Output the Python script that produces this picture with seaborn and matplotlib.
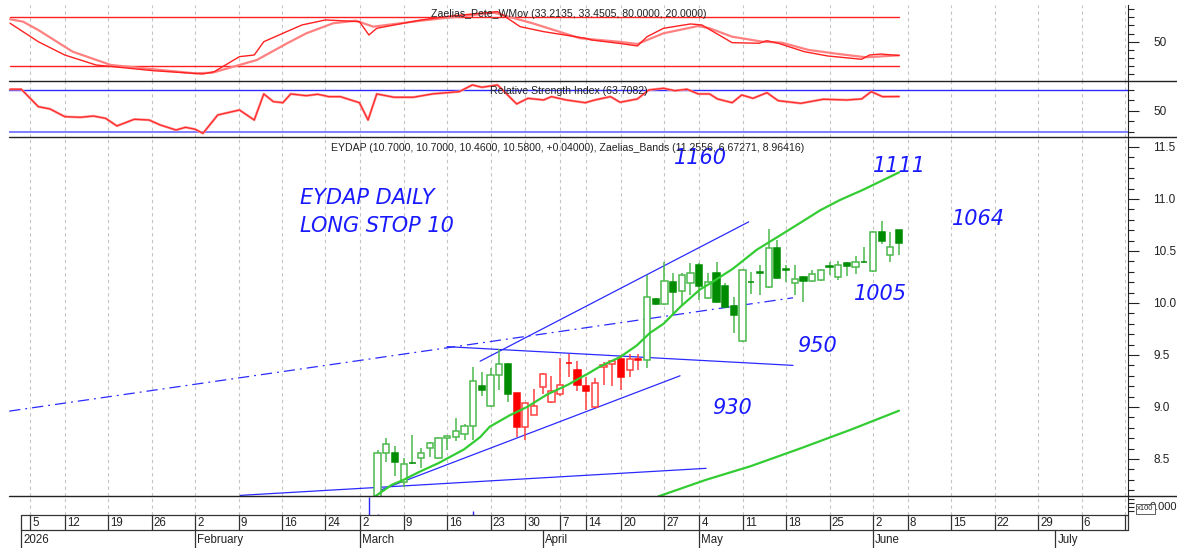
import matplotlib
matplotlib.use("Agg")
import matplotlib.pyplot as plt
import seaborn as sns
from matplotlib.lines import Line2D
from matplotlib.patches import Rectangle
from matplotlib.ticker import MultipleLocator, FixedLocator

# ---------------- data (x = trading-day index, 0 = 5 Jan 2026) ----------------
candle_day = list(range(40, 101))
opens = [8.02, 8.56, 8.56, 8.28, 8.46, 8.51, 8.61, 8.51, 8.70, 8.71, 8.74, 8.82, 9.20, 9.01, 9.31, 9.41,
         9.13, 8.81, 8.92, 9.19, 9.05, 9.12, 9.42, 9.36, 9.20, 9.00, 9.38, 9.41, 9.46, 9.36, 9.46,
         9.45, 10.04, 9.99, 10.20, 10.12, 10.19, 10.37, 10.05, 10.29, 10.16, 9.97, 9.63, 10.20, 10.29,
         10.15, 10.53, 10.32, 10.19, 10.25, 10.21, 10.22, 10.35, 10.25, 10.38, 10.35, 10.39, 10.31,
         10.68, 10.46, 10.70]
highs = [8.59, 8.70, 8.62, 8.51, 8.73, 8.61, 8.66, 8.71, 8.73, 8.89, 8.84, 9.38, 9.34, 9.37, 9.56, 9.42,
         9.13, 9.04, 9.17, 9.33, 9.30, 9.47, 9.51, 9.44, 9.29, 9.28, 9.43, 9.45, 9.50, 9.51, 9.51,
         10.27, 10.05, 10.39, 10.29, 10.29, 10.38, 10.38, 10.29, 10.39, 10.19, 10.06, 10.33, 10.30, 10.37,
         10.71, 10.61, 10.37, 10.37, 10.26, 10.32, 10.33, 10.39, 10.40, 10.39, 10.45, 10.54, 10.69,
         10.79, 10.68, 10.70]
lows = [7.98, 8.47, 8.34, 8.23, 8.45, 8.41, 8.52, 8.50, 8.59, 8.67, 8.68, 8.68, 9.11, 9.00, 9.16, 9.05,
        8.71, 8.68, 8.92, 9.12, 9.04, 9.11, 9.29, 9.15, 8.97, 8.99, 9.21, 9.20, 9.16, 9.29, 9.36,
        9.37, 9.98, 9.98, 9.88, 9.98, 10.08, 10.03, 10.04, 10.00, 9.95, 9.71, 9.62, 10.09, 10.08,
        10.14, 10.23, 10.20, 10.08, 10.01, 10.20, 10.21, 10.27, 10.22, 10.26, 10.28, 10.38, 10.30,
        10.57, 10.39, 10.46]
closes = [8.56, 8.64, 8.47, 8.45, 8.46, 8.56, 8.65, 8.70, 8.72, 8.77, 8.82, 9.25, 9.16, 9.31, 9.41, 9.12,
          8.81, 9.04, 9.01, 9.32, 9.15, 9.21, 9.42, 9.21, 9.15, 9.23, 9.40, 9.44, 9.29, 9.46, 9.45,
          10.06, 9.99, 10.21, 10.11, 10.27, 10.29, 10.16, 10.20, 10.01, 9.96, 9.88, 10.32, 10.20, 10.29,
          10.53, 10.24, 10.32, 10.23, 10.21, 10.28, 10.32, 10.35, 10.37, 10.36, 10.39, 10.39, 10.68,
          10.60, 10.54, 10.58]
trend = ['g', 'g', 'g', 'g', 'g', 'g', 'g', 'g', 'g', 'g', 'g', 'g', 'g', 'g', 'g', 'g',
         'r', 'r', 'r', 'r', 'r', 'r', 'r', 'r', 'r', 'r', 'r', 'r', 'r', 'r', 'r',
         'g', 'g', 'g', 'g', 'g', 'g', 'g', 'g', 'g', 'g', 'g', 'g', 'g', 'g',
         'g', 'g', 'g', 'g', 'g', 'g', 'g', 'g', 'g', 'g', 'g', 'g', 'g', 'g', 'g', 'g']

band_up_day = [39, 39.7, 41.6, 43.0, 44.9, 47.0, 49.9, 51.8, 52.9, 55.2, 57.2, 59.5, 61.8, 64.4, 65.6,
               67.9, 69.8, 71.3, 72.9, 74.8, 77.1, 78.3, 80.9, 83.6, 86.7, 89.2, 90.9, 93.2, 95.9, 100]
band_up_val = [8.05, 8.14, 8.25, 8.30, 8.38, 8.46, 8.59, 8.71, 8.81, 8.92, 9.00, 9.12, 9.21, 9.33, 9.39,
               9.48, 9.59, 9.71, 9.80, 9.96, 10.13, 10.19, 10.33, 10.51, 10.67, 10.80, 10.89, 10.99, 11.09, 11.2556]
band_mid_day = [71, 72.3, 77.8, 82.9, 88.6, 94.4, 100]
band_mid_val = [8.06, 8.14, 8.30, 8.43, 8.60, 8.78, 8.96416]

pete_fast_day = [-2.3, 0.95, 4.0, 7.6, 14.2, 19.9, 21.2, 24.1, 25.8, 26.9, 29.1, 31.3, 34.0, 37.9, 39.0,
                 39.9, 45.0, 48.5, 53.8, 56.4, 59.1, 63.9, 64.6, 67.7, 69.9, 71.0, 72.9, 76.0, 77.3,
                 80.8, 83.9, 84.8, 86.1, 89.1, 91.8, 95.7, 96.6, 97.9, 100]
pete_fast_val = [72.7, 50.1, 33.8, 21.6, 14.6, 10.6, 13.4, 31.8, 33.8, 50.1, 60.4, 70.6, 76.7, 74.6, 58.3,
                 66.5, 76.7, 81.6, 86.9, 68.5, 62.4, 54.3, 52.2, 48.2, 44.9, 56.2, 66.5, 71.8, 70.6,
                 48.9, 48.2, 51.3, 48.2, 37.9, 32.6, 28.6, 33.8, 35.0, 33.2135]
pete_slow_day = [-2.3, -0.8, 0.95, 4.9, 9.3, 15.0, 19.0, 21.0, 26.1, 29.6, 31.8, 34.9, 37.5, 39.5, 45.0,
                 53.4, 57.8, 63.3, 67.7, 69.9, 72.9, 76.9, 78.2, 80.8, 84.3, 86.5, 89.6, 93.1, 96.2, 100]
pete_slow_val = [77.6, 74.6, 64.4, 37.9, 21.6, 15.5, 11.4, 12.2, 27.7, 48.2, 60.4, 72.7, 75.8, 68.5, 75.8,
                 85.6, 72.7, 54.3, 50.1, 47.3, 60.4, 69.3, 66.5, 56.2, 50.1, 48.9, 40.0, 35.0, 31.0, 33.4505]
pete_levels = [80, 20]

rsi_day = [-2.3, -1.0, 0.95, 2.3, 4.0, 5.8, 7.3, 8.7, 10.0, 12.0, 13.7, 15.0, 16.8, 17.9, 19.0, 19.9,
           21.6, 24.1, 25.8, 26.9, 28.0, 29.1, 30.0, 31.8, 33.1, 34.4, 35.7, 37.9, 38.9, 39.9, 41.9,
           44.1, 46.3, 49.4, 50.9, 52.0, 53.8, 56.0, 57.3, 59.1, 60.0, 61.7, 63.9, 65.0, 66.8, 67.9,
           69.9, 71.2, 72.9, 74.2, 75.6, 76.9, 78.2, 79.1, 80.8, 81.9, 83.2, 84.8, 86.1, 88.7, 91.3,
           94.0, 95.7, 96.8, 98.1, 100]
rsi_val = [70.7, 70.7, 54.0, 51.8, 44.4, 43.8, 45.0, 42.8, 35.5, 41.9, 41.2, 36.4, 31.6, 34.2, 32.3, 28.4,
           46.0, 50.8, 41.2, 66.2, 58.8, 57.8, 66.2, 64.5, 65.9, 63.6, 63.6, 57.8, 41.2, 66.2, 63.0,
           63.0, 66.2, 68.4, 74.8, 72.6, 74.8, 56.6, 62.0, 60.4, 63.6, 60.4, 57.8, 60.4, 63.6, 58.2,
           61.4, 70.0, 71.6, 69.3, 70.7, 66.2, 66.2, 61.4, 57.8, 65.2, 62.0, 67.4, 59.7, 57.2, 61.1,
           60.4, 61.4, 68.4, 63.6, 63.7082]
rsi_levels = [70, 30]

vol_day = [39, 40, 51]
vol_val = [18, 0.6, 4]

# trendlines drawn on the chart (start day, start price, end day, end price)
tl_x0 = [24.2, 51.8, 40.3, 48.0, -2.4]
tl_y0 = [8.15, 9.44, 8.20, 9.58, 8.96]
tl_x1 = [77.8, 82.7, 74.8, 87.8, 87.8]
tl_y1 = [8.41, 10.78, 9.30, 9.40, 10.05]
tl_dashed = [False, False, False, False, True]

notes = ["EYDAP DAILY", "LONG STOP 10", "1160", "1111", "1064", "1005", "950", "930"]

week_day = [0, 4, 9, 14, 19, 24, 29, 34, 38, 43, 48, 53, 57, 61, 64, 68, 73, 77, 82, 87, 92, 97,
            101, 106, 111, 116, 121, 126]
week_lbl = ["5", "12", "19", "26", "2", "9", "16", "24", "2", "9", "16", "23", "30", "7", "14", "20",
            "27", "4", "11", "18", "25", "2", "8", "15", "22", "29", "6", ""]
month_day = [-1, 19, 38, 59, 77, 97, 118]
month_lbl = ["2026", "February", "March", "April", "May", "June", "July"]

# ---------------- style / layout ----------------
sns.set_style("white")
plt.rcParams['font.family'] = ['Liberation Sans', 'DejaVu Sans']

W, H = 1177, 550
fig = plt.figure(figsize=(W / 100, H / 100), dpi=100)
fig.patch.set_facecolor("white")
XL, XR = 9, 1128
XMIN, XMAX = -2.42, 126.35


def rect(yt, yb):
    return [XL / W, 1 - yb / H, (XR - XL) / W, (yb - yt) / H]


ax_top = fig.add_axes(rect(5, 81))
ax_rsi = fig.add_axes(rect(81, 137))
ax_main = fig.add_axes(rect(137, 496))
ax_vol = fig.add_axes(rect(496, 515))
ax_date = fig.add_axes(rect(515, 548))

for ax in (ax_top, ax_rsi, ax_main, ax_vol, ax_date):
    ax.set_xlim(XMIN, XMAX)
    ax.set_facecolor("none")
    for s in ("top", "left", "bottom"):
        ax.spines[s].set_visible(False)
    ax.spines["right"].set_color("#222222")
    ax.spines["right"].set_linewidth(0.8)
    ax.set_xticks([])
    ax.yaxis.tick_right()
    ax.tick_params(axis="y", which="major", direction="out", length=8, width=0.8,
                   colors="#222222", labelsize=8.5, pad=10)
    ax.tick_params(axis="y", which="minor", direction="out", length=4, width=0.8, colors="#222222")
    ax.set_xlabel("")
    ax.set_ylabel("")
ax_date.spines["right"].set_visible(False)
ax_date.set_yticks([])
ax_date.set_ylim(0, 1)

# vertical dashed grid at week starts
for ax in (ax_top, ax_rsi, ax_main, ax_vol):
    for d in week_day:
        ax.axvline(d, color="#c4c4c4", lw=0.8, ls=(0, (3, 3)), zorder=0)

# ---- top panel: Zaelias_Pete_WMov ----
ax_top.set_ylim(2, 95)
for lv in pete_levels:
    ax_top.plot([pete_fast_day[0], 100], [lv, lv], color="#ff2020", lw=1.0, zorder=2)
sns.lineplot(x=pete_slow_day, y=pete_slow_val, ax=ax_top, color="#ff8080", lw=1.6,
             estimator=None, sort=False, zorder=3)
sns.lineplot(x=pete_fast_day, y=pete_fast_val, ax=ax_top, color="#ff2020", lw=1.0,
             estimator=None, sort=False, zorder=4)
ax_top.yaxis.set_major_locator(FixedLocator([50]))
ax_top.yaxis.set_minor_locator(FixedLocator([10, 20, 30, 40, 60, 70, 80, 90]))
ax_top.set_xlim(XMIN, XMAX)
ax_top.set_xlabel(""); ax_top.set_ylabel("")

# ---- RSI panel ----
ax_rsi.set_ylim(24.9, 78.6)
ax_rsi.axhline(rsi_levels[0], color="#2a2aff", lw=1.0, zorder=2)
ax_rsi.axhline(rsi_levels[1], color="#8080ff", lw=1.4, zorder=2)
sns.lineplot(x=rsi_day, y=rsi_val, ax=ax_rsi, color="#ff9a9a", lw=1.8,
             estimator=None, sort=False, zorder=3)
sns.lineplot(x=rsi_day, y=rsi_val, ax=ax_rsi, color="#ff2a2a", lw=0.9,
             estimator=None, sort=False, zorder=4)
ax_rsi.yaxis.set_major_locator(FixedLocator([50]))
ax_rsi.yaxis.set_minor_locator(FixedLocator([30, 40, 60, 70]))
ax_rsi.set_xlim(XMIN, XMAX)
ax_rsi.set_xlabel(""); ax_rsi.set_ylabel("")

# ---- main price panel ----
ax_main.set_ylim(8.144, 11.596)
GREEN_LINE, GREEN_FILL = "#4cb84c", "#008c00"
RED_LINE, RED_FILL = "#ff4040", "#ff0000"
wick_cols, face_cols, edge_cols, bottoms, heights = [], [], [], [], []
for o, c, t in zip(opens, closes, trend):
    line = GREEN_LINE if t == 'g' else RED_LINE
    fill = GREEN_FILL if t == 'g' else RED_FILL
    wick_cols.append(line)
    if c < o or abs(c - o) < 1e-9:
        face_cols.append(fill)
        edge_cols.append(fill)
    else:
        face_cols.append("white")
        edge_cols.append(line)
    bottoms.append(min(o, c))
    heights.append(max(abs(c - o), 0.006))
ax_main.vlines(candle_day, lows, highs, colors=wick_cols, lw=1.1, zorder=5)
ax_main.bar(candle_day, heights, bottom=bottoms, width=0.72, color=face_cols,
            edgecolor=edge_cols, linewidth=1.1, zorder=6)

sns.lineplot(x=band_up_day, y=band_up_val, ax=ax_main, color="#33cc33", lw=1.6,
             estimator=None, sort=False, zorder=7)
sns.lineplot(x=band_mid_day, y=band_mid_val, ax=ax_main, color="#33cc33", lw=1.6,
             estimator=None, sort=False, zorder=7)

for x0, y0, x1, y1, dsh in zip(tl_x0, tl_y0, tl_x1, tl_y1, tl_dashed):
    ax_main.plot([x0, x1], [y0, y1], color="#2a2aff", lw=0.9,
                 ls=(0, (9, 4, 1.5, 4)) if dsh else "-", zorder=4)

note_pos = [(31.1, 11.01, "left"), (31.1, 10.74, "left"), (77.1, 11.39, "center"),
            (100.1, 11.32, "center"), (109.1, 10.81, "center"), (97.9, 10.09, "center"),
            (90.6, 9.59, "center"), (80.8, 8.99, "center")]
for txt, (nx, ny, ha) in zip(notes, note_pos):
    ax_main.text(nx, ny, txt, color="#1a1aff", fontsize=15, style="italic",
                 family=["DejaVu Sans"], ha=ha, va="center", zorder=9)

ax_main.yaxis.set_major_locator(FixedLocator([8.5, 9.0, 9.5, 10.0, 10.5, 11.0, 11.5]))
ax_main.yaxis.set_major_formatter(matplotlib.ticker.FormatStrFormatter("%.1f"))
ax_main.yaxis.set_minor_locator(MultipleLocator(0.1))
ax_main.set_xlim(XMIN, XMAX)
ax_main.set_xlabel(""); ax_main.set_ylabel("")

# ---- volume strip ----
ax_vol.set_ylim(0, 19)
ax_vol.vlines(vol_day, 0, vol_val, colors="#2a2aff", lw=1.0)
ax_vol.set_yticks([])
ax_vol.yaxis.set_minor_locator(FixedLocator([4, 8, 12, 16]))
fig.text(1150 / W, 1 - 507 / H, "0.000", fontsize=8, color="#222222", va="center", ha="left")
fig.text(1137 / W, 1 - 509 / H, "x100", fontsize=5.5, color="#222222", va="center", ha="left",
         bbox=dict(boxstyle="square,pad=0.15", fc="white", ec="#444444", lw=0.6))

# ---- date strip ----
yrow = 1 - (530 - 515) / (548 - 515)
ax_date.plot([-1, XMAX], [1, 1], color="#333333", lw=0.9, clip_on=False)
ax_date.plot([-1, XMAX], [yrow, yrow], color="#333333", lw=0.9, clip_on=False)
ax_date.plot([XMAX, XMAX], [yrow, 1], color="#333333", lw=0.9, clip_on=False)
for d, lb in zip([-1] + week_day, [""] + week_lbl):
    ax_date.plot([d, d], [yrow, 1], color="#333333", lw=0.9)
    ax_date.text(d + 0.25, (1 + yrow) / 2 - 0.02, lb, fontsize=8.3, color="#222222",
                 ha="left", va="center")
for d, lb in zip(month_day, month_lbl):
    ax_date.plot([d, d], [0, yrow], color="#333333", lw=0.9)
    ax_date.text(d + 0.25, yrow / 2 - 0.02, lb, fontsize=8.3, color="#222222",
                 ha="left", va="center")

# ---- panel separators ----
for yy in (81, 137, 496):
    fig.add_artist(Line2D([XL / W, 1.0], [1 - yy / H, 1 - yy / H], color="#222222", lw=1.0,
                          transform=fig.transFigure))

# ---- titles ----
fig.text(569 / W, 1 - 14 / H, "Zaelias_Pete_WMov (33.2135, 33.4505, 80.0000, 20.0000)",
         fontsize=7.6, color="#222222", ha="center", va="center", zorder=10)
fig.text(569 / W, 1 - 91 / H, "Relative Strength Index (63.7082)",
         fontsize=7.6, color="#222222", ha="center", va="center", zorder=10)
fig.text(568 / W, 1 - 148 / H,
         "EYDAP (10.7000, 10.7000, 10.4600, 10.5800, +0.04000), Zaelias_Bands (11.2556, 6.67271, 8.96416)",
         fontsize=7.6, color="#222222", ha="center", va="center", zorder=10)

fig.savefig("out.png", dpi=100, facecolor="white")
